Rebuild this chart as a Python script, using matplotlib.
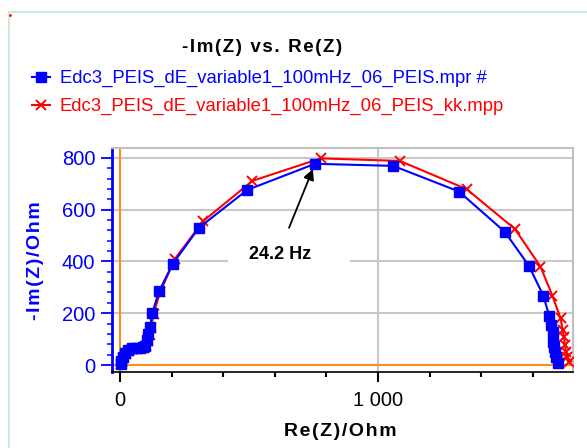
import matplotlib
matplotlib.use("Agg")
import matplotlib.pyplot as plt
from matplotlib.lines import Line2D
from matplotlib.patches import Rectangle
from matplotlib.ticker import MultipleLocator, FixedLocator, FuncFormatter

# Nyquist data (Ohm)
re_meas = [2, 5, 10, 18, 30, 45, 60, 75, 88, 97, 103, 110, 116, 125, 151, 204, 306, 493,
           756, 1059, 1314, 1492, 1585, 1641, 1664, 1672, 1677, 1680, 1683, 1686, 1690, 1699]
im_meas = [5, 15, 32, 47, 58, 64, 66, 67, 68, 75, 95, 120, 145, 200, 284, 390, 530, 676,
           777, 769, 670, 514, 383, 268, 189, 155, 129, 90, 70, 50, 32, 9]

re_kk = [5, 8, 13, 22, 35, 50, 65, 80, 92, 102, 108, 115, 121, 130, 156, 213, 323, 513,
         778, 1085, 1344, 1531, 1630, 1676, 1708, 1716, 1721, 1725, 1729, 1734, 1742]
im_kk = [2, 12, 28, 43, 54, 60, 62, 63, 64, 72, 92, 117, 142, 198, 282, 410, 556, 711,
         798, 788, 679, 525, 380, 268, 180, 135, 107, 77, 51, 32, 13]

label_meas = "Edc3_PEIS_dE_variable1_100mHz_06_PEIS.mpr #"
label_kk = "Edc3_PEIS_dE_variable1_100mHz_06_PEIS_kk.mpp"
freq_label = "24.2 Hz"
freq_index = 18

FONT = ['Liberation Sans', 'DejaVu Sans']
plt.rcParams['font.family'] = FONT


def spaced(s):
    return "\u200a".join(s)


fig = plt.figure(figsize=(5.87, 4.48), dpi=100)
ax = fig.add_axes([112 / 587, 1 - 372 / 448, (573 - 112) / 587, (372 - 148) / 448])

ax.set_xlim(-31, 1756)
ax.set_ylim(-27, 838)

# grid
ax.set_axisbelow(True)
for y in [200, 400, 600, 800]:
    ax.axhline(y, color='#c8c8c8', lw=1.5, zorder=0.5)
ax.axvline(1000, color='#c8c8c8', lw=1.5, zorder=0.5)
# white box behind the frequency label
ax.add_patch(Rectangle((419, 350), 472, 130, facecolor='white', edgecolor='none', zorder=0.8))

ax.axhline(0, color='#ff8c1a', lw=1.5, zorder=1)
ax.axvline(0, color='#ff8c1a', lw=1.5, zorder=1)

ax.plot(re_kk, im_kk, color='red', lw=1.5, marker='x', ms=7, mew=1.4, zorder=3,
        label=label_kk)
ax.plot(re_meas, im_meas, color='blue', lw=1.5, marker='s', ms=7, zorder=4,
        label=label_meas)

# frequency annotation
ax.annotate('', xy=(re_meas[freq_index], im_meas[freq_index]), xytext=(-26, -64),
            textcoords='offset pixels',
            arrowprops=dict(arrowstyle='-|>', color='black', lw=1.3, mutation_scale=16,
                            shrinkA=0, shrinkB=4), zorder=5)
ax.text(620, 425, freq_label, ha='center', va='center', fontsize=13,
        fontweight='bold', color='black', zorder=5)

# axes styling
for side in ['top', 'right']:
    ax.spines[side].set_color('#c0c0c0')
    ax.spines[side].set_linewidth(1.5)
ax.spines['left'].set_color('blue')
ax.spines['left'].set_linewidth(2)
ax.spines['bottom'].set_color('black')
ax.spines['bottom'].set_linewidth(1.2)

ax.yaxis.set_major_locator(MultipleLocator(200))
ax.yaxis.set_minor_locator(MultipleLocator(40))
ax.xaxis.set_major_locator(FixedLocator([0, 1000]))
ax.xaxis.set_minor_locator(MultipleLocator(200))
ax.xaxis.set_major_formatter(FuncFormatter(lambda v, p: f"{int(v):,}".replace(",", " ")))

ax.tick_params(axis='y', which='major', direction='out', length=8, width=1.3,
               color='blue', labelcolor='blue', labelsize=14.5, pad=4)
ax.tick_params(axis='y', which='minor', direction='out', length=3.5, width=1.1, color='blue')
ax.tick_params(axis='x', which='major', direction='out', length=7, width=1.5,
               color='black', labelcolor='black', labelsize=14.5, pad=7)
ax.tick_params(axis='x', which='minor', direction='out', length=3.5, width=1.5, color='black')

# texts
fig.text(262 / 587, 1 - 47 / 448, spaced("-Im(Z) vs. Re(Z)"), ha='center', va='center',
         fontsize=13.5, fontweight='bold', color='black')
fig.text(340 / 587, 1 - 431 / 448, spaced("Re(Z)/Ohm"), ha='center', va='center',
         fontsize=14, fontweight='bold', color='black')
fig.text(36 / 587, 1 - 261 / 448, spaced("-Im(Z)/Ohm"), ha='center', va='center',
         rotation=90, fontsize=14, fontweight='bold', color='blue')

handles, labels = ax.get_legend_handles_labels()
leg = fig.legend(handles[::-1], labels[::-1], loc='upper left',
                 bbox_to_anchor=(32 / 587, 1 - 70 / 448), frameon=False,
                 fontsize=13.3, handlelength=1.0, handletextpad=0.5, labelspacing=0.6,
                 borderaxespad=0, borderpad=0)
for txt, col in zip(leg.get_texts(), ['blue', 'red']):
    txt.set_color(col)

# light outer frame
fig.add_artist(Line2D([9 / 587, 1], [1 - 12 / 448, 1 - 12 / 448], color='#c8e6c8', lw=1.2))
fig.add_artist(Line2D([9 / 587, 9 / 587], [0, 1 - 12 / 448], color='#c8e6c8', lw=1.2))
fig.add_artist(Line2D([10 / 587], [1 - 15 / 448], marker='o', ms=1, color='red', lw=0))

fig.savefig("out.png", dpi=100)
